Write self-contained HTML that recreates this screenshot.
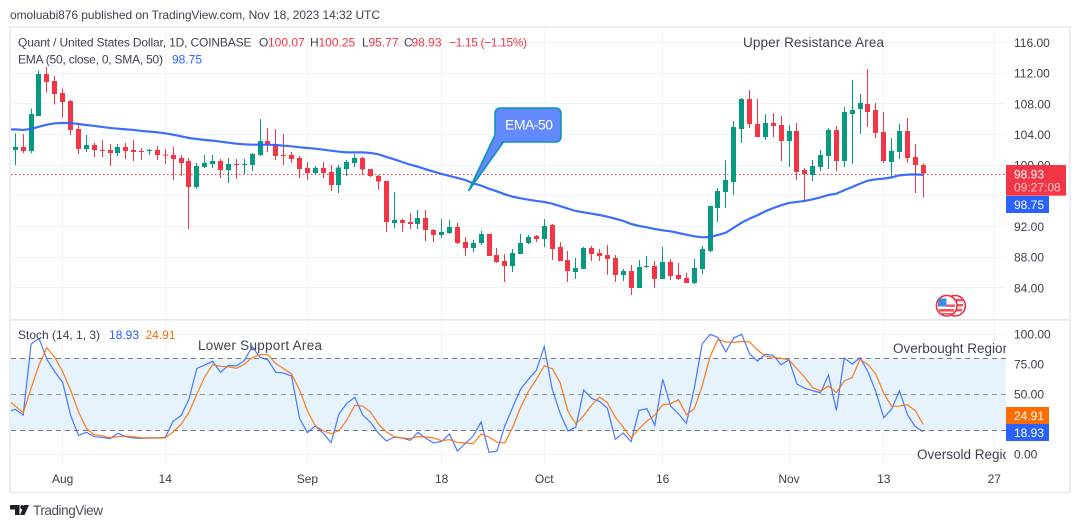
<!DOCTYPE html>
<html lang="en">
<head>
<meta charset="utf-8">
<title>Quant / United States Dollar chart</title>
<style>
html,body{margin:0;padding:0;background:#fff;width:1080px;height:528px;overflow:hidden}
svg{display:block;font-family:"Liberation Sans",Arial,sans-serif}
text{white-space:pre}
</style>
</head>
<body>
<svg id="chart" width="1080" height="528" viewBox="0 0 1080 528" xmlns="http://www.w3.org/2000/svg">
  <defs>
    <clipPath id="plot-clip"><rect x="11" y="28" width="995" height="437"/></clipPath>
    <clipPath id="main-clip"><rect x="11" y="28" width="995" height="291"/></clipPath>
    <clipPath id="stoch-clip"><rect x="11" y="321" width="995" height="144"/></clipPath>
  </defs>
  <rect width="1080" height="528" fill="#ffffff"/>
  <text x="10" y="19" font-size="12" fill="#3f4350" textLength="370" lengthAdjust="spacing">omoluabi876 published on TradingView.com, Nov 18, 2023 14:32 UTC</text>
  <rect x="10" y="27" width="1060" height="465.5" fill="none" stroke="#eceef4" stroke-width="2"/>
  <g id="grid" shape-rendering="crispEdges"></g>
  <rect x="11" y="358.3" width="995" height="72" fill="#e3f2fd" opacity=".9"/>
  <g id="stoch-guides" shape-rendering="crispEdges"></g>
  <rect x="11" y="319" width="1058" height="1.5" fill="#e4e6ec"/>
  <g clip-path="url(#main-clip)">
    <line id="last-line" x1="11" x2="1006" stroke="#f23645" stroke-width="1" stroke-dasharray="1.5 2.5"/>
    <g id="candles" shape-rendering="crispEdges"></g>
    <path id="ema-line" fill="none" stroke="#2962ff" stroke-width="2.2" stroke-linejoin="round" opacity=".92"/>
  </g>
  <g clip-path="url(#stoch-clip)">
    <path id="stoch-k" fill="none" stroke="#2962ff" stroke-width="1.2" opacity=".85"/>
    <path id="stoch-d" fill="none" stroke="#ff6d00" stroke-width="1.2" opacity=".9"/>
  </g>

  <g font-size="12">
    <text x="18" y="46.5" fill="#3f4350" textLength="233.5" lengthAdjust="spacing">Quant / United States Dollar, 1D, COINBASE</text>
    <text x="259" y="46.5" fill="#3f4350">O</text>
    <text x="268" y="46.5" fill="#f23645">100.07</text>
    <text x="310" y="46.5" fill="#3f4350">H</text>
    <text x="318.5" y="46.5" fill="#f23645">100.25</text>
    <text x="362" y="46.5" fill="#3f4350">L</text>
    <text x="368.5" y="46.5" fill="#f23645">95.77</text>
    <text x="404" y="46.5" fill="#3f4350">C</text>
    <text x="411.5" y="46.5" fill="#f23645">98.93</text>
    <text x="449" y="46.5" fill="#f23645" textLength="78" lengthAdjust="spacing">−1.15 (−1.15%)</text>
    <text x="18" y="63.5" fill="#3f4350" textLength="145" lengthAdjust="spacing">EMA (50, close, 0, SMA, 50)</text>
    <text x="172" y="63.5" fill="#2962ff">98.75</text>
  </g>
  <g font-size="12">
    <text x="18" y="339" fill="#3f4350">Stoch (14, 1, 3)</text>
    <text x="109" y="339" fill="#2962ff">18.93</text>
    <text x="145.5" y="339" fill="#ff6d00">24.91</text>
  </g>

  <text x="743" y="47" font-size="13.5" fill="#3f4350" textLength="141" lengthAdjust="spacing">Upper Resistance Area</text>
  <text x="198" y="350" font-size="13.5" fill="#3f4350" textLength="124" lengthAdjust="spacing">Lower Support Area</text>
  <g clip-path="url(#plot-clip)">
    <text x="893" y="353" font-size="13.5" fill="#3f4350">Overbought Region</text>
    <text x="917" y="459" font-size="13.5" fill="#3f4350">Oversold Region</text>
  </g>

  <g>
    <path d="M501,108 H555 Q561,108 561,114 V136 Q561,142 555,142 H503.5 L468.5,191 L495,135 V114 Q495,108 501,108 Z" fill="#6389ff" stroke="#0f93b5" stroke-width="1.6"/>
    <text x="529" y="129.5" text-anchor="middle" font-size="14" fill="#ffffff" textLength="48" lengthAdjust="spacing">EMA-50</text>
  </g>

  <g>
    <circle cx="955" cy="305.7" r="10.3" fill="#fff" stroke="#f0323f" stroke-width="1.6"/>
    <rect x="952" y="299" width="11" height="2.4" fill="#f0525f"/>
    <rect x="952" y="304" width="11" height="2.4" fill="#f0525f"/>
    <rect x="952" y="309" width="10" height="2.4" fill="#f0525f"/>
    <circle cx="946.7" cy="305.7" r="10.3" fill="#fff" stroke="#f0323f" stroke-width="1.6"/>
    <rect x="939" y="309" width="15" height="2.6" fill="#f0525f"/>
    <rect x="939" y="313" width="13" height="1.5" fill="#f0525f"/>
    <rect x="946" y="304.5" width="9" height="2.4" fill="#f0525f"/>
    <path d="M939,298.5 h7.5 v8 h-8.7 q0,-4.5 1.2,-8 z" fill="#3b8de8"/>
  </g>

  <g id="axis-labels" font-size="12" fill="#3a3e4a"></g>

  <rect x="1006" y="165" width="60" height="30.7" fill="#f23645"/>
  <text x="1014" y="178.5" font-size="12" fill="#ffffff">98.93</text>
  <text x="1014" y="191.5" font-size="12" fill="#ffc2c8">09:27:08</text>
  <rect x="1006" y="196" width="43" height="17" fill="#2962ff"/>
  <text x="1014" y="209" font-size="12" fill="#ffffff">98.75</text>
  <rect x="1006" y="407" width="43" height="17" fill="#ff6d00"/>
  <text x="1014" y="420" font-size="12" fill="#ffffff">24.91</text>
  <rect x="1006" y="424" width="43" height="17" fill="#2962ff"/>
  <text x="1014" y="437" font-size="12" fill="#ffffff">18.93</text>

  <g>
    <path d="M10,505 H19.5 V515 H15 V509.5 H10 Z M24.5,515 L29,505 H24 L20,515 Z" fill="#1f2128"/>
    <circle cx="22.3" cy="507.2" r="2.1" fill="#1f2128"/>
    <text x="33" y="515" font-size="13.5" fill="#4a4d57" textLength="70" lengthAdjust="spacing">TradingView</text>
  </g>
</svg>
<script>
const opens = [102.00,102.39,101.87,106.43,111.91,111.00,109.43,108.39,104.74,102.13,102.65,102.00,102.00,101.61,102.39,102.00,101.87,101.87,102.00,101.43,101.35,100.95,100.56,97.17,99.78,100.17,100.56,99.39,100.17,100.08,100.04,101.35,103.17,102.78,101.35,101.35,100.95,99.65,99.00,99.65,99.13,97.43,99.52,100.30,100.95,99.52,98.61,97.95,92.48,92.87,92.61,92.35,93.13,91.56,90.91,91.17,91.95,90.00,89.22,89.87,91.04,88.30,87.52,86.87,88.43,89.87,90.78,90.39,92.22,89.35,87.65,86.09,86.48,89.22,88.56,88.30,87.91,85.69,86.22,84.00,86.74,86.87,85.17,87.39,85.69,85.30,84.65,86.48,88.82,94.43,96.52,97.82,104.74,108.65,105.39,103.70,105.52,105.26,103.17,104.48,99.39,98.74,99.78,101.22,104.61,100.56,106.70,107.35,108.00,107.22,104.35,100.43,101.74,104.48,101.09,100.07];
const highs = [104.17,104.08,107.43,112.39,112.85,111.65,110.04,108.52,105.48,103.95,102.91,103.30,102.78,102.78,102.91,103.30,102.26,102.13,102.52,102.13,102.39,101.35,100.95,100.30,101.35,101.35,100.82,100.95,100.82,100.82,101.61,106.04,104.87,104.74,104.08,101.74,101.22,100.43,99.91,100.43,100.04,100.04,100.69,101.48,101.13,99.52,98.74,98.04,96.52,93.00,93.78,94.17,94.17,91.69,93.00,92.87,92.48,90.65,90.26,91.43,91.13,89.22,88.43,89.09,91.04,90.91,90.91,93.00,92.35,90.00,88.82,87.91,89.35,89.48,89.09,89.61,88.30,86.48,87.00,87.65,88.17,87.52,89.35,87.78,87.26,85.95,87.78,89.48,94.69,97.04,100.69,105.78,108.78,109.82,108.65,106.70,106.83,106.43,105.26,105.52,99.65,100.69,102.00,104.87,105.13,107.61,111.13,109.30,112.57,108.13,106.96,103.57,105.39,106.17,102.78,100.25];
const lows = [100.04,101.61,101.61,106.43,109.48,107.91,106.26,103.95,101.48,101.74,101.08,101.08,99.91,101.22,100.82,100.56,100.69,101.35,100.69,100.17,98.08,98.61,91.69,96.91,99.65,99.65,98.35,97.69,98.22,98.87,99.26,101.22,101.74,100.69,100.04,100.30,98.35,98.08,98.74,98.35,96.65,96.39,98.61,99.78,98.74,98.48,96.78,91.30,91.82,91.30,91.69,91.69,90.13,90.00,90.52,91.04,89.74,88.17,88.69,89.61,88.17,87.26,84.78,86.09,88.43,89.74,90.00,89.35,87.65,87.52,84.78,85.17,86.48,87.52,87.52,85.69,84.78,84.91,83.09,84.00,86.61,84.00,85.17,85.04,85.04,84.65,84.52,85.82,88.69,92.61,94.43,96.13,102.91,104.87,103.70,103.30,103.70,100.56,99.78,98.09,95.48,97.96,99.26,99.52,99.26,99.78,100.17,104.09,105.00,103.57,100.30,98.30,100.82,100.30,96.39,95.77];
const closes = [102.39,101.87,106.69,111.91,110.87,109.30,108.26,104.61,102.13,102.65,102.00,101.87,101.61,102.39,101.87,101.74,101.78,102.00,101.35,101.35,100.82,100.30,97.17,99.91,100.30,100.56,99.39,100.17,100.04,100.17,101.48,103.17,102.65,101.22,101.22,100.82,99.52,99.00,99.65,99.00,97.43,99.69,100.43,100.95,99.43,98.61,97.87,92.61,92.87,92.48,92.35,93.13,91.56,90.91,91.30,91.95,89.87,89.22,89.87,91.04,88.17,87.39,86.87,88.56,89.87,90.65,90.39,92.09,89.09,87.52,86.22,86.61,89.22,88.43,88.17,87.78,85.69,86.22,84.00,86.74,86.87,85.17,87.39,85.56,85.17,84.65,86.61,89.09,94.69,96.65,98.09,105.00,108.65,105.39,103.70,105.52,105.13,103.17,104.48,99.13,98.87,99.91,101.35,104.61,100.56,106.96,107.22,108.13,106.96,104.22,100.56,101.87,104.48,100.95,100.04,98.93];
/* one bar before the first visible candle, then one value per candle */
const emaValues = [104.65,104.69,104.61,104.74,105.04,105.30,105.48,105.52,105.52,105.39,105.26,105.13,105.00,104.87,104.78,104.69,104.61,104.48,104.39,104.30,104.17,104.00,103.78,103.56,103.43,103.30,103.22,103.08,102.95,102.82,102.74,102.69,102.69,102.69,102.65,102.56,102.48,102.35,102.26,102.17,102.04,101.91,101.78,101.69,101.69,101.69,101.61,101.43,101.09,100.78,100.43,100.09,99.82,99.48,99.17,98.87,98.61,98.35,98.09,97.65,97.35,96.95,96.61,96.22,95.91,95.69,95.52,95.35,95.22,95.00,94.69,94.35,94.04,93.87,93.69,93.52,93.30,93.04,92.74,92.35,92.09,91.91,91.69,91.52,91.39,91.17,90.95,90.74,90.61,90.65,90.91,91.21,91.87,92.52,93.04,93.48,94.00,94.43,94.78,95.09,95.22,95.35,95.56,95.82,96.13,96.30,96.74,97.17,97.61,98.00,98.17,98.26,98.43,98.69,98.78,98.82,98.75];
const stochK = [35.5,37.5,32.7,91.9,96.6,79.1,68.8,60.0,32.7,15.8,18.3,14.7,14.1,13.0,17.5,14.7,13.6,13.3,13.8,13.6,14.1,27.7,32.2,46.1,71.6,74.4,77.5,68.3,74.1,73.6,78.0,89.7,80.8,78.6,68.3,67.7,65.2,30.0,18.0,23.6,17.5,9.7,33.8,42.5,47.5,32.7,26.6,17.5,11.1,14.4,13.6,11.6,18.3,13.3,9.4,10.8,16.9,2.7,9.1,15.2,26.9,1.6,2.7,23.6,39.1,54.4,62.5,70.0,89.7,54.4,34.4,19.4,22.7,53.6,46.6,44.1,38.3,12.5,17.7,10.5,36.6,38.0,24.1,62.5,40.2,33.8,25.8,55.0,91.9,100.0,97.5,85.5,96.9,100.0,83.8,77.7,83.3,82.5,74.7,78.6,58.6,55.0,53.0,51.3,66.1,36.6,80.2,75.2,80.5,68.8,52.2,30.5,37.7,53.0,33.0,23.0,18.93];
const stochD = [45.2,40.2,34.7,55.0,74.4,88.8,80.8,68.8,53.6,35.5,21.6,16.3,15.5,13.8,14.7,15.2,14.7,13.6,13.6,13.6,13.8,18.8,25.0,35.0,50.2,64.7,74.7,73.3,73.0,71.6,75.0,80.5,83.0,83.0,75.5,71.3,66.9,53.6,36.3,23.6,19.7,17.2,19.7,28.6,40.8,40.2,35.2,25.2,18.6,14.7,13.6,13.0,14.7,14.4,13.6,11.3,12.2,10.0,9.4,8.8,16.9,14.4,10.2,9.4,22.5,39.1,52.5,62.5,73.8,71.3,60.0,35.8,25.2,32.2,41.1,47.7,43.0,30.8,22.5,13.6,21.3,27.7,32.7,41.3,42.2,45.5,33.0,38.0,56.9,81.3,95.8,93.6,93.3,94.1,93.6,86.9,81.9,80.8,80.0,78.6,71.3,64.1,55.5,52.7,56.9,51.3,61.1,64.1,79.1,74.7,66.9,50.8,40.0,40.2,41.3,36.3,24.91];
const priceTicks = [116, 112, 108, 104, 100, 92, 88, 84];
const priceGrid = [116, 112, 108, 104, 100, 96, 92, 88, 84];
const stochTicks = [100, 75, 50, 0];
const stochGrid = [100, 75, 50, 25, 0];
const stochGuides = [80, 50, 20];
const timeLabels = ['Aug', '14', 'Sep', '18', 'Oct', '16', 'Nov', '13', '27'];
const timeBars = [6, 19, 37, 54, 67, 82, 98, 110, 124];
const lastClose = 98.93;

const NS = 'http://www.w3.org/2000/svg';
const xOf = i => 15.3 + 7.895 * i;
const yPrice = p => 73.3 + (112 - p) * 7.667;
const yStoch = v => 454.3 - 1.2 * v;
function make(tag, attrs, parent) {
  const e = document.createElementNS(NS, tag);
  for (const k in attrs) e.setAttribute(k, attrs[k]);
  parent.appendChild(e);
  return e;
}
function linePath(values, firstBar, yFn) {
  return values.map((v, i) => (i ? 'L' : 'M') + xOf(i + firstBar).toFixed(2) + ',' + yFn(v).toFixed(2)).join(' ');
}

const grid = document.getElementById('grid');
timeBars.forEach(b => {
  const vx = Math.round(xOf(b) - 0.5);
  const vl = make('rect', {x: vx, y: 28, width: 1, height: 437, fill: '#f0f3fa'}, grid);
  
  
});
priceGrid.forEach(p => {
  const hl = make('rect', {x: 11, y: Math.round(yPrice(p) - 0.5), width: 995, height: 1, fill: '#f0f3fa'}, grid);
  
  
});
stochGrid.forEach(v => {
  const sl = make('rect', {x: 11, y: Math.round(yStoch(v) - 0.5), width: 995, height: 1, fill: '#f0f3fa'}, grid);
  
  
});

const guides = document.getElementById('stoch-guides');
stochGuides.forEach(v => {
  const yy = Math.round(yStoch(v)) + 0.5;
  const g = make('line', {x1: 11, x2: 1006, y1: yy, y2: yy, stroke: v === 50 ? '#9598a1' : '#787b86', 'stroke-width': 1, 'stroke-dasharray': '5 4'}, guides);
  
  
});

const cg = document.getElementById('candles');
opens.forEach((o, i) => {
  const c = closes[i];
  const col = c >= o ? '#089981' : '#f23645';
  const wx = Math.round(xOf(i) - 0.5);
  const top = yPrice(Math.max(o, c));
  const bot = yPrice(Math.min(o, c));
  const wick = make('rect', {x: wx, y: yPrice(highs[i]), width: 1, height: Math.max(1, yPrice(lows[i]) - yPrice(highs[i])), fill: col}, cg);
  
  
  const body = make('rect', {x: wx - 2, y: top, width: 5, height: Math.max(1, bot - top), fill: col}, cg);
  
  
});

document.getElementById('ema-line').setAttribute('d', linePath(emaValues, -1, yPrice));
document.getElementById('stoch-k').setAttribute('d', linePath(stochK, -1, yStoch));
document.getElementById('stoch-d').setAttribute('d', linePath(stochD, -1, yStoch));
const ll = document.getElementById('last-line');
const lly = Math.round(yPrice(lastClose)) + 0.5;
ll.setAttribute('y1', lly);
ll.setAttribute('y2', lly);

const labels = document.getElementById('axis-labels');
priceTicks.forEach(p => {
  const t = make('text', {x: 1014, y: yPrice(p) + 4.3}, labels);
  t.textContent = p.toFixed(2);
  
  
});
stochTicks.forEach(v => {
  const t = make('text', {x: 1014, y: yStoch(v) + 4.3}, labels);
  t.textContent = v.toFixed(2);
  
  
});
timeLabels.forEach((s, i) => {
  const t = make('text', {x: xOf(timeBars[i]), y: 483, 'text-anchor': 'middle'}, labels);
  t.textContent = s;
  
  
});
</script>
</body>
</html>
